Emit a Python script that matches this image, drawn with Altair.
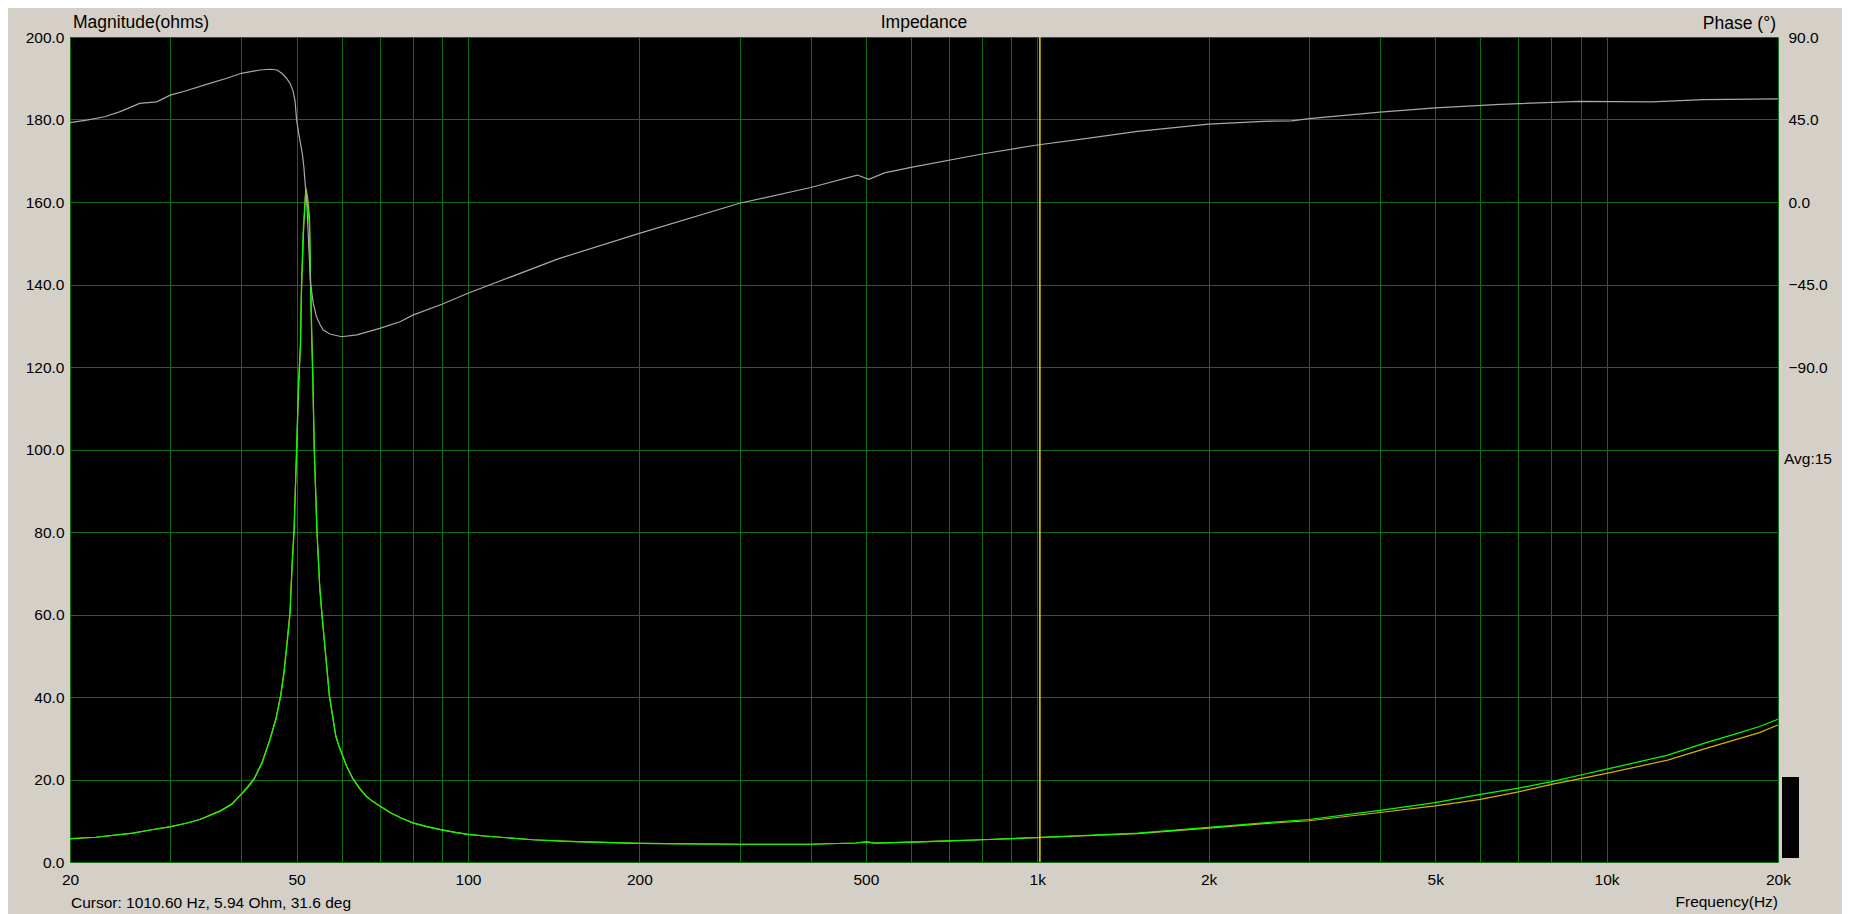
import altair as alt
import pandas as pd

# ---------------- data ----------------
freq_mag = [20, 22.2, 25.8, 27.5, 30, 32, 33.8, 35, 36.8, 38.5, 40, 41, 42.1, 43.5, 44.9, 46, 46.9,
            47.5, 48.0, 48.7, 49.1, 49.5,
            50.0, 50.4, 50.8, 51.0, 51.4, 51.9, 52.3, 52.7, 52.9, 53.2, 53.4, 53.7, 54.3,
            54.9, 55.4, 56.2, 57.1, 58.6, 59.3, 60, 61.3, 62.7, 64.5, 66.4, 68, 70, 73, 76.5,
            80, 85, 90, 95, 100, 107, 114, 130, 150,
            200, 250, 300, 400, 480, 500, 520, 600, 700, 800, 1000, 1500, 2000, 2500,
            3000, 4000, 5000, 6000, 7000, 8000, 9000, 10000, 12800, 15000, 16800, 18500, 20000]
mag_green = [5.7, 6.0, 7.0, 7.7, 8.6, 9.4, 10.3, 11.1, 12.4, 14.0, 16.4, 18.0, 20.0, 24.0, 29.6, 34.5, 40.2,
             45.5, 51.4, 60.0, 71.6, 80.0,
             100.0, 116.8, 125.0, 140.0, 154.0, 162.5, 159.0, 154.0, 140.0, 125.0, 116.8, 100.0, 80.0,
             66.7, 60.0, 50.6, 40.2, 30.4, 28.2, 26.3, 23.0, 20.3, 17.8, 15.8, 14.7, 13.6, 12.0, 10.6,
             9.5, 8.5, 7.8, 7.2, 6.7, 6.3, 6.0, 5.4, 5.0,
             4.5, 4.4, 4.3, 4.3, 4.6, 4.9, 4.6, 4.8, 5.1, 5.4, 5.94, 7.0, 8.4, 9.5,
             10.3, 12.5, 14.4, 16.4, 17.9, 19.5, 21.1, 22.5, 25.9, 29.0, 31.0, 32.8, 34.6]
mag_yellow = [5.6, 6.0, 7.0, 7.7, 8.5, 9.4, 10.3, 11.2, 12.5, 14.1, 16.5, 18.2, 20.2, 24.2, 29.8, 34.8, 40.6,
              46.0, 52.0, 60.8, 72.0, 81.0,
              99.0, 114.0, 126.0, 138.0, 152.0, 163.5, 161.0, 156.0, 142.0, 127.0, 118.0, 101.0, 80.5,
              67.0, 60.2, 50.8, 40.4, 30.6, 28.3, 26.4, 23.1, 20.4, 17.9, 15.9, 14.7, 13.6, 12.0, 10.6,
              9.5, 8.5, 7.8, 7.2, 6.7, 6.3, 6.0, 5.4, 5.0,
              4.5, 4.4, 4.3, 4.3, 4.6, 4.9, 4.6, 4.8, 5.1, 5.4, 5.9, 6.9, 8.2, 9.3,
              10.0, 12.0, 13.6, 15.2, 17.0, 18.8, 20.2, 21.5, 24.7, 27.6, 29.6, 31.3, 33.2]

freq_phase = [20, 21.4, 23, 24.5, 26.5, 28.4, 30, 32, 35.2, 37.7, 40, 43.1, 44.9, 46.2, 47.1,
              48.0, 48.7, 49.3, 49.7, 50.0, 50.4, 50.8, 51.2, 51.5, 51.8, 52.1, 52.5, 52.9, 53.5, 54.2,
              55.0, 55.7, 57.2, 60, 63.8, 70, 76, 80, 90, 100, 144, 200, 300, 400, 483, 506, 539,
              600, 800, 1000, 1188, 1500, 2000, 2500, 2800, 3000, 4000, 5000, 6500, 8960,
              12000, 14800, 20000]
phase_deg = [43.3, 44.7, 46.5, 49.3, 53.8, 54.6, 58.3, 60.7, 64.7, 67.5, 70.2, 72.0, 72.4, 72.0, 70.2,
             67.5, 64.7, 60.5, 55.0, 45.0, 38.0, 32.0, 26.0, 19.0, 9.0, 0.2, -22.5, -44.3, -55.3, -62.6,
             -67.0, -69.8, -72.0, -73.5, -72.5, -68.9, -65.3, -61.7, -55.8, -49.8, -31.0, -17.1, -0.7, 7.9, 14.7, 12.4, 15.9,
             18.9, 26.2, 31.1, 34.2, 38.5, 42.5, 44.0, 44.3, 45.5, 49.0, 51.3, 53.3, 54.9,
             54.6, 55.8, 56.3]

cursor_freq = [1010.6]

x_grid = [20, 30, 40, 50, 60, 70, 80, 90, 100, 200, 300, 400, 500, 600, 700, 800, 900,
          1000, 2000, 3000, 4000, 5000, 6000, 7000, 8000, 9000, 10000, 20000]
x_labels = [20, 50, 100, 200, 500, 1000, 2000, 5000, 10000, 20000]
y_left_ticks = [0, 20, 40, 60, 80, 100, 120, 140, 160, 180, 200]
y_right_ticks = [-90, -45, 0, 45, 90]

title_text = "Impedance"
left_title = "Magnitude(ohms)"
right_title = "Phase (°)"
x_title = "Frequency(Hz)"
cursor_text = "Cursor: 1010.60 Hz, 5.94 Ohm, 31.6 deg"
avg_text = "Avg:15"

# ---------------- style ----------------
W, H = 1708, 825
BG = "#D4D0C8"
GRID = "#107010"
FONT = "Liberation Sans"
TICK_FS = 15.5
TITLE_FS = 17.5

mag_df = pd.DataFrame({"freq": freq_mag, "green": mag_green, "yellow": mag_yellow})
phase_df = pd.DataFrame({"freq": freq_phase, "phase": phase_deg})
cursor_df = pd.DataFrame({"freq": cursor_freq})

xscale = alt.Scale(type="log", domain=[20, 20000], nice=False)
label_list = ",".join(str(v) for v in x_labels)
xaxis = alt.Axis(
    values=x_grid,
    labelExpr=f"indexof([{label_list}], datum.value) >= 0 ? (datum.value >= 1000 ? (datum.value/1000) + 'k' : datum.value + '') : ''",
    grid=True, gridColor=GRID, gridWidth=1, gridOpacity=1,
    ticks=False, domain=False, labelPadding=10, labelFontSize=TICK_FS,
    labelColor="#000000", labelFlush=False, labelOverlap=False, title=None,
)
xenc = alt.X("freq:Q", scale=xscale, axis=xaxis)

left_axis = alt.Axis(
    values=y_left_ticks, format=".1f", grid=True, gridColor=GRID, gridWidth=1, gridOpacity=1,
    ticks=False, domain=False, labelPadding=6, labelFontSize=TICK_FS, labelColor="#000000",
    labelFlush=False, labelOverlap=False, title=None,
)
left_scale = alt.Scale(domain=[0, 200], nice=False, zero=False)

yellow = alt.Chart(mag_df).mark_line(color="#d0b400", strokeWidth=1.2).encode(
    x=xenc, y=alt.Y("yellow:Q", scale=left_scale, axis=left_axis)
)
green = alt.Chart(mag_df).mark_line(color="#00ff00", strokeWidth=1.2).encode(
    x=xenc, y=alt.Y("green:Q", scale=left_scale, axis=left_axis)
)
left = alt.layer(yellow, green)

right_axis = alt.Axis(
    orient="right", values=y_right_ticks, format=".1f", grid=False, ticks=False, domain=False,
    labelPadding=10, labelFontSize=TICK_FS, labelColor="#000000", labelFlush=False,
    labelOverlap=False, title=None,
)
phase = alt.Chart(phase_df).mark_line(color="#a8a8a8", strokeWidth=1.2).encode(
    x=xenc,
    y=alt.Y("phase:Q", scale=alt.Scale(domain=[-360, 90], nice=False, zero=False), axis=right_axis),
)

cursor = alt.Chart(cursor_df).mark_rule(color="#e8d400", strokeWidth=1.5).encode(x=xenc)


def label(txt, x, y, align, size):
    return alt.Chart(pd.DataFrame({"t": [txt]})).mark_text(
        align=align, baseline="alphabetic", fontSize=size, font=FONT, color="#000000"
    ).encode(text="t:N", x=alt.value(x), y=alt.value(y))


t_title = label(title_text, W / 2, -9, "center", TITLE_FS)
t_left = label(left_title, 3, -9, "left", TITLE_FS)
t_right = label(right_title, W - 2, -8, "right", TITLE_FS)
t_x = label(x_title, W, 870, "right", TICK_FS)
t_cursor = label(cursor_text, 1, 871, "left", TICK_FS)
t_avg = label(avg_text, 1714, 427, "left", TICK_FS)

meter = alt.Chart(pd.DataFrame({"m": [0]})).mark_rect(color="#000000").encode(
    x=alt.value(1712), x2=alt.value(1729), y=alt.value(740), y2=alt.value(821)
)

chart = alt.layer(
    left, phase, cursor, t_title, t_left, t_right, t_x, t_cursor, t_avg, meter
).resolve_scale(y="independent").properties(
    width=W, height=H,
    autosize=alt.AutoSizeParams(type="none"),
    padding={"left": 62, "top": 29, "right": 64, "bottom": 52},
    background=BG,
).configure(font=FONT).configure_view(fill="#000000", strokeWidth=0)

chart.save("out.html", embed_options={"renderer": "svg", "actions": False})
